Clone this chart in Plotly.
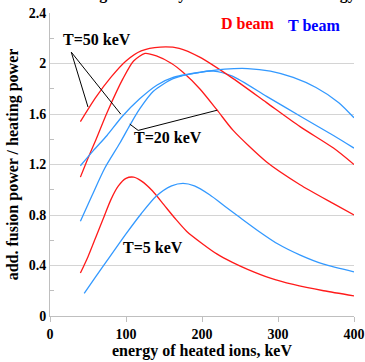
import plotly.graph_objects as go

# ---- data ----
E_d5 = [40, 50, 60, 70, 80, 90, 100, 110, 120, 135, 150, 165, 180, 200, 220, 240, 260, 290, 320, 360, 400]
V_d5 = [0.34, 0.47, 0.62, 0.77, 0.92, 1.03, 1.09, 1.10, 1.07, 0.99, 0.88, 0.77, 0.67, 0.575, 0.49, 0.425, 0.37, 0.30, 0.25, 0.20, 0.16]

E_t5 = [45, 60, 80, 100, 120, 140, 160, 175, 190, 210, 230, 250, 275, 300, 330, 360, 400]
V_t5 = [0.18, 0.31, 0.48, 0.65, 0.81, 0.95, 1.03, 1.05, 1.03, 0.96, 0.87, 0.78, 0.67, 0.57, 0.48, 0.41, 0.35]

E_d20 = [40, 50, 60, 75, 96, 110, 125, 140, 160, 175, 197, 220, 241, 285, 329, 373, 400]
V_d20 = [1.10, 1.25, 1.39, 1.61, 1.88, 2.02, 2.08, 2.06, 2.00, 1.93, 1.80, 1.63, 1.47, 1.22, 1.04, 0.89, 0.80]

E_t20 = [40, 55, 72, 92, 105, 118, 136, 162, 197, 215, 240, 285, 330, 373, 400]
V_t20 = [0.75, 0.95, 1.17, 1.37, 1.51, 1.64, 1.78, 1.88, 1.93, 1.94, 1.90, 1.74, 1.58, 1.43, 1.33]

E_d50 = [40, 60, 80, 100, 120, 145, 170, 197, 241, 285, 329, 373, 400]
V_d50 = [1.54, 1.73, 1.89, 2.02, 2.10, 2.13, 2.12, 2.05, 1.88, 1.69, 1.50, 1.33, 1.20]

E_t50 = [40, 57, 75, 95, 118, 141, 162, 197, 230, 260, 290, 320, 350, 380, 400]
V_t50 = [1.19, 1.31, 1.43, 1.58, 1.72, 1.83, 1.89, 1.93, 1.955, 1.96, 1.94, 1.89, 1.81, 1.69, 1.57]

X_TICKS = [0, 100, 200, 300, 400]

RED = "#ff1a1a"
BLUE = "#3399ff"
FONT = "Liberation Serif"

fig = go.Figure()
for E, V, c in [(E_d5, V_d5, RED), (E_t5, V_t5, BLUE), (E_d20, V_d20, RED),
                (E_t20, V_t20, BLUE), (E_d50, V_d50, RED), (E_t50, V_t50, BLUE)]:
    fig.add_trace(go.Scatter(x=E, y=V, mode="lines", line=dict(color=c, width=1.3, shape="spline", smoothing=0.7),
                             showlegend=False, hoverinfo="skip"))

# annotation leader lines
leaders = [((28, 2.09), (50, 1.655)), ((28, 2.09), (93, 1.60)),
           ((116, 1.47), (105, 1.52)), ((116, 1.47), (220, 1.63))]
for (x0, y0), (x1, y1) in leaders:
    fig.add_shape(type="line", x0=x0, y0=y0, x1=x1, y1=y1, xref="x", yref="y",
                  line=dict(color="black", width=1))

bold = dict(family=FONT, size=16, color="black")
fig.add_annotation(x=62, y=2.19, text="<b>T=50 keV</b>", showarrow=False, font=bold)
fig.add_annotation(x=155, y=1.41, text="<b>T=20 keV</b>", showarrow=False, font=bold)
fig.add_annotation(x=136, y=0.54, text="<b>T=5 keV</b>", showarrow=False, font=bold)
fig.add_annotation(x=261, y=2.32, text="<b>D beam</b>", showarrow=False,
                   font=dict(family=FONT, size=16, color="#ff0000"))
fig.add_annotation(x=347, y=2.30, text="<b>T beam</b>", showarrow=False,
                   font=dict(family=FONT, size=16, color="#0000ff"))
# title, mostly cut off at the top of the picture (as in the reference)
fig.add_annotation(x=0.5, y=1.062, xref="paper", yref="paper", yanchor="middle",
                   text="<b>Fusion gain ratio by fast ions vs. their energy</b>", showarrow=False,
                   font=dict(family=FONT, size=16, color="black"))

fig.update_layout(
    width=365, height=362,
    margin=dict(l=50, r=11, t=13, b=46, autoexpand=False),
    paper_bgcolor="white", plot_bgcolor="white",
    font=dict(family=FONT, color="black"),
)
fig.update_xaxes(range=[0, 400], tickvals=X_TICKS, showgrid=False, automargin=False,
                 showline=True, linecolor="#bfbfbf", linewidth=1,
                 ticks="outside", ticklen=5, tickcolor="#bfbfbf",
                 tickfont=dict(family=FONT, size=14, color="black", weight="bold"),
                 title=dict(text="<b>energy of heated ions, keV</b>", font=dict(family=FONT, size=16), standoff=4),
                 zeroline=False)
fig.update_yaxes(range=[0, 2.4], tick0=0, dtick=0.4, showgrid=True, gridcolor="#d4d4d4", gridwidth=1,
                 automargin=False,
                 showline=True, linecolor="#bfbfbf", linewidth=1, ticks="",
                 minor=dict(dtick=0.2, tick0=0, ticks="inside", ticklen=4, tickcolor="#bfbfbf", showgrid=False),
                 tickfont=dict(family=FONT, size=14, color="black", weight="bold"),
                 title=dict(text="<b>add. fusion power / heating power</b>", font=dict(family=FONT, size=16), standoff=6),
                 zeroline=False)

fig.write_html("out.html")
